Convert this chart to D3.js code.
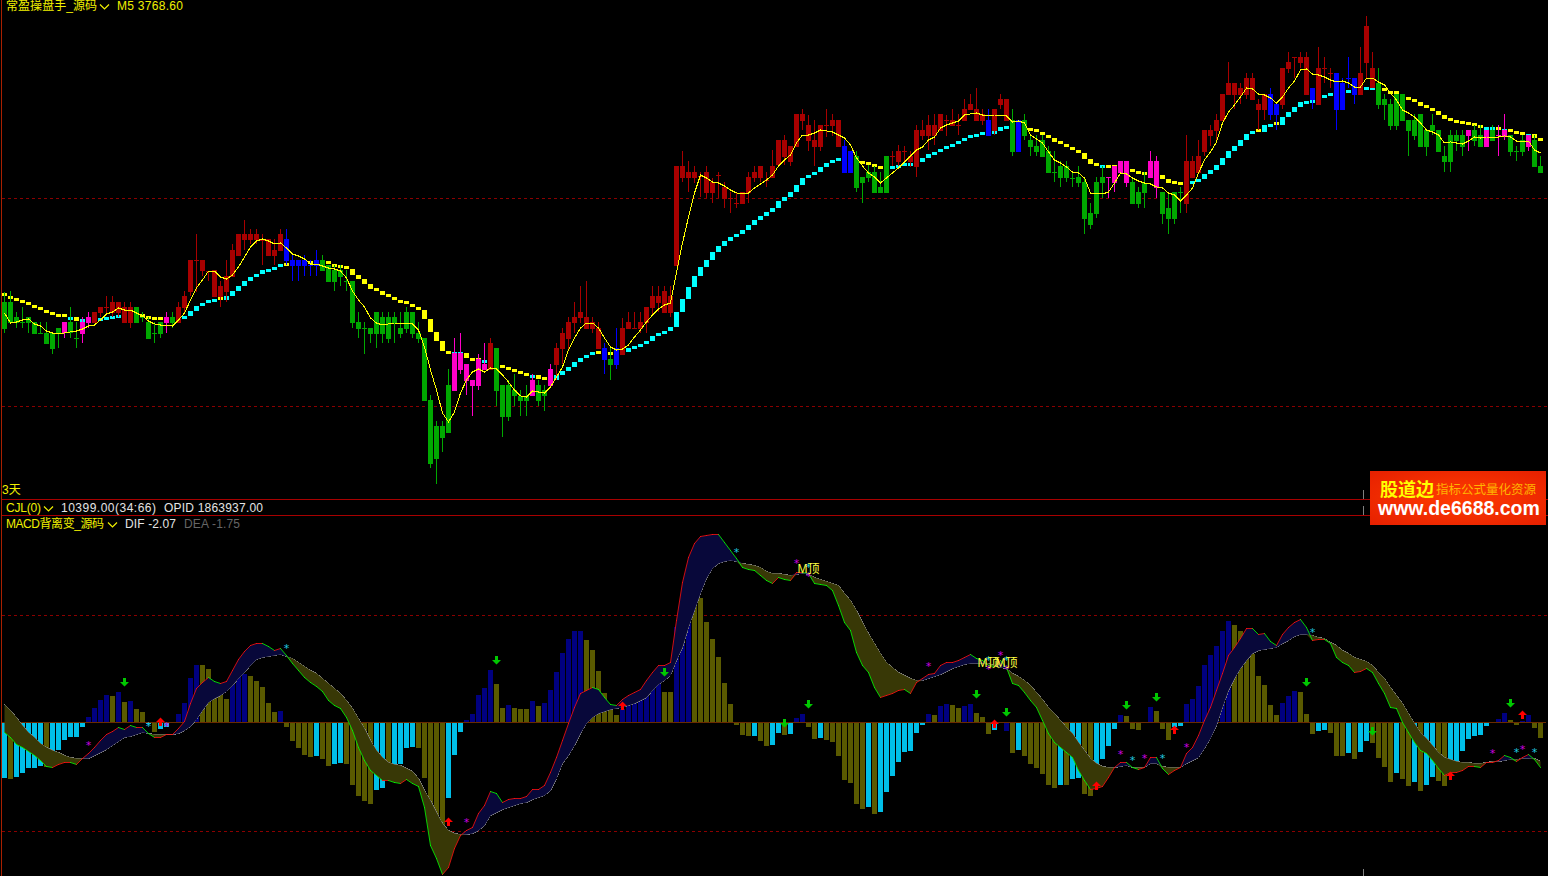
<!DOCTYPE html>
<html>
<head>
<meta charset="utf-8">
<script src="https://cdn.jsdelivr.net/npm/d3@7/dist/d3.min.js"></script>
<style>
html,body{margin:0;padding:0;background:#000;overflow:hidden}
svg{display:block}
text{font-family:"Liberation Sans","Noto Sans CJK SC",sans-serif;font-size:12px}
</style>
</head>
<body>
<svg id="c" width="1548" height="876"></svg>
<script>
// ---- price data: ticks (0.2 pts) above the base price
const priceBase = 3703.2, priceTick = 0.2;
const candleKinds = "gggggggggg"+"mggmmrrrrr"+"rrgggggmgr"+"rrrrrrrrrr"+"rrrrrrrbbb"+"bbbggggggg"+"gggggggggg"+"gggggmmmmm"+"mrggggggmg"+"gmrrrrrrrr"+
"bgbrrrrrrr"+"rrrrrrrrrr"+"rrrrrrrrrr"+"rrrrrrrrrr"+"bbggggggrr"+"rrrrrrrrrr"+"rrrrbrrrgb"+"gggggggggg"+"ggggmmmmgg"+"gmmggggrrr"+
"rrrrrrrrrr"+"rbbrrrrrbr"+"rrbbbbrrrg"+"gggggggggg"+"ggggmggmgm"+"mgggmgg";
const bodyHigh = [198,198,183,178,183,178,167,167,167,172,
178,178,162,178,183,188,193,193,198,198,
193,193,193,183,178,167,178,183,183,193,
204,240,240,240,229,230,214,224,250,266,
266,266,266,260,261,250,266,261,240,240,
240,235,240,240,235,230,230,219,219,178,
172,172,188,183,183,183,172,188,188,167,
162,100,74,74,115,147,147,136,120,141,
136,157,152,115,115,110,104,104,120,115,
110,131,152,167,178,183,188,183,178,172,
152,141,152,172,178,172,178,193,204,204,
209,204,334,334,328,328,324,328,318,325,
313,302,297,308,323,328,334,320,334,360,
360,354,386,386,375,360,375,375,380,380,
354,349,344,323,328,328,313,344,344,349,
349,344,370,370,375,375,386,380,380,375,
391,396,391,386,380,391,401,401,380,380,
380,360,354,360,349,328,334,334,322,323,
318,287,318,323,323,334,339,339,318,308,
317,339,339,308,292,308,308,339,339,344,
370,370,380,406,417,417,412,422,422,396,
406,406,396,432,438,443,443,443,412,432,
432,427,427,417,422,422,427,474,432,417,
401,396,406,406,380,380,386,370,375,370,
344,365,365,365,370,370,365,370,370,365,
370,365,349,360,365,360,334];
const bodyLow = [171,177,177,177,177,166,166,156,151,166,
167,167,161,166,177,177,187,192,187,187,
177,177,177,182,161,166,166,177,177,177,
192,208,239,229,228,203,203,208,223,244,
260,260,260,259,244,244,249,239,234,234,
234,234,234,229,218,218,223,218,177,171,
171,166,166,166,161,177,166,171,166,161,
99,36,41,62,67,109,130,119,114,114,
130,130,109,83,83,104,99,99,104,99,
104,114,135,151,161,177,182,171,171,151,
140,135,135,145,171,171,171,177,192,197,
187,187,234,322,322,322,323,307,307,324,
301,301,296,296,307,322,322,319,322,335,
343,338,353,379,359,353,353,374,374,353,
327,327,312,317,322,307,307,307,343,338,
348,338,333,364,364,364,369,379,374,374,
379,390,379,379,364,369,395,379,348,348,
364,353,348,343,327,327,322,322,321,317,
281,275,286,317,322,317,327,317,296,296,
307,322,312,286,281,281,307,296,322,327,
348,364,369,379,405,405,405,405,400,390,
390,385,385,395,431,442,437,405,400,395,
431,426,390,390,421,405,405,437,412,395,
395,374,374,379,369,364,353,353,369,348,
338,338,359,353,364,359,353,353,359,364,
364,348,348,348,353,333,327];
const wickHigh = [208,209,188,193,183,178,178,178,167,172,
178,193,178,183,188,188,193,204,204,198,
198,198,193,188,183,178,178,188,188,198,
209,240,266,240,229,230,219,240,256,266,
280,271,271,266,261,261,271,271,245,240,
245,240,250,245,235,235,235,230,219,188,
178,172,188,188,188,188,188,193,188,178,
162,105,79,79,131,162,167,136,120,146,
157,162,152,115,120,126,110,115,126,120,
115,136,157,172,183,198,214,219,183,178,
157,152,172,182,188,188,188,193,214,214,
214,214,334,349,339,334,328,334,322,328,
318,308,307,308,328,334,334,328,350,360,
365,354,386,391,385,380,375,391,386,380,
360,349,349,323,335,334,328,344,349,355,
354,349,375,380,385,386,386,385,391,386,
401,406,412,391,391,391,406,401,391,380,
386,365,365,365,354,349,339,339,328,334,
323,297,323,334,323,334,339,339,323,313,
328,349,344,308,308,308,313,365,344,360,
370,375,386,406,438,417,417,427,427,401,
406,412,396,432,448,443,448,448,412,453,
443,432,427,422,443,422,453,484,448,432,
406,401,406,406,380,386,386,370,386,370,
354,370,370,370,370,375,375,370,375,375,
386,365,354,365,365,365,344];
const wickLow = [167,177,172,172,167,166,166,156,146,152,
162,162,152,157,172,177,183,187,183,183,
177,172,177,178,161,157,162,167,172,177,
187,204,208,224,219,203,193,198,223,244,
250,256,256,235,244,235,249,235,219,219,
224,224,224,229,218,209,214,209,172,162,
146,157,152,157,157,157,162,167,162,157,
99,32,16,48,67,109,126,105,84,110,
130,130,94,63,79,94,84,84,104,94,
89,114,120,136,151,167,177,171,167,151,
126,120,131,145,171,171,167,167,184,188,
187,183,234,318,308,317,303,302,297,302,
292,287,292,296,297,318,318,313,322,333,
335,334,353,370,349,334,349,363,364,353,
327,327,308,297,318,307,307,307,334,334,
338,333,323,360,350,355,369,364,374,365,
379,390,379,375,364,365,391,379,344,348,
360,344,344,343,327,318,313,318,313,313,
266,271,282,302,302,308,327,313,296,292,
292,322,302,276,266,276,287,287,322,327,
344,354,358,379,405,391,396,401,400,370,
380,380,370,391,427,422,432,405,391,395,
417,412,370,390,412,396,405,422,412,391,
380,370,370,379,344,360,353,344,365,348,
328,328,349,344,349,354,353,353,359,344,
360,344,339,344,349,333,327];
const ladder = [204,201,199,197,195,192,190,187,185,183,
183,183,179,181,181,182,182,183,184,185,
185,185,185,183,181,180,180,180,180,182,
184,189,194,197,200,201,200,204,209,214,
219,223,226,230,231,233,236,234,236,236,
236,236,236,236,236,233,232,231,225,221,
216,211,209,205,203,200,197,196,193,190,
181,168,159,149,146,148,147,142,139,139,
140,138,134,132,130,128,126,124,125,121,
120,120,125,129,133,138,142,145,148,146,
146,145,145,148,152,154,156,159,164,167,
169,173,188,201,213,224,233,240,248,254,
259,263,266,270,275,280,284,288,292,299,
303,308,315,322,325,328,333,337,340,342,
342,342,339,336,335,333,331,331,334,335,
337,337,338,342,346,348,351,354,356,359,
362,365,366,368,369,369,373,374,374,374,
372,369,368,365,362,358,356,353,350,347,
341,336,334,335,332,332,332,330,328,326,
325,325,325,321,317,316,315,317,319,321,
326,330,335,342,349,354,360,366,369,368,
375,376,375,383,388,393,398,399,400,402,
405,407,409,410,408,410,410,413,413,412,
409,406,406,403,400,398,394,392,389,385,
381,379,377,376,375,374,372,373,372,370,
371,368,366,365,366,362,359];
const ladderKinds = "yyyyyyyyyy"+"ycyccccccc"+"ccyyyyyyyc"+"ccccccyccc"+"cccccccyyy"+"yyyyyyyyyy"+"yyyyyyyyyy"+"yyyyyccyyy"+"cyyyyyyycy"+"yycccccccy"+
"yyyccccccc"+"cccccccccc"+"cccccccccc"+"cccccccccc"+"yyyyyyyycc"+"cccccccccc"+"cccccccccc"+"cyyyyyyyyy"+"yyycyyyyyy"+"yyyyyyyycc"+
"cccccccccy"+"ccyccccccc"+"cccccccccy"+"yyyyyyyyyy"+"yyyyyyyccy"+"cyyycyy";
const trendLine = [187,177,178,180,181,176,174,169,167,166,
167,168,169,171,174,175,180,186,188,192,
190,190,187,184,179,176,175,175,174,180,
187,200,212,220,229,229,223,221,225,233,
243,253,259,261,259,256,257,252,246,244,
241,236,236,234,232,231,229,222,209,200,
193,182,177,175,176,177,177,177,176,170,
153,130,110,87,78,88,107,120,128,131,
128,132,131,125,118,110,104,103,109,108,
107,113,123,133,150,162,172,177,177,172,
162,153,150,151,155,163,170,178,185,191,
195,197,227,257,283,307,325,322,318,317,
314,310,307,306,307,312,316,320,325,334,
340,345,357,365,365,367,370,369,368,365,
362,355,342,334,327,323,317,322,327,332,
338,344,350,353,360,363,372,375,377,379,
385,386,387,385,384,385,385,384,378,379,
377,365,361,357,348,340,337,333,328,327,
322,307,307,306,308,317,327,326,322,319,
317,316,313,312,307,305,299,305,312,327,
340,348,358,377,388,395,403,412,411,406,
405,402,397,403,412,419,430,431,426,425,
423,420,418,419,417,413,413,422,422,418,
415,407,400,390,387,383,377,370,368,365,
357,358,357,356,359,363,362,363,363,363,
364,363,359,359,359,350,347];
const priceGrid = [3763.6, 3722.0];

// ---- MACD data: ticks of 1/21.6 above zero
const macdTick = 1/21.6;
const histogram = [-55,-56,-54,-50,-45,-45,-43,-44,-37,-27,
-17,-14,-14,-4,6,15,23,28,27,31,
21,22,14,11,-1,-9,-6,-4,1,9,
20,45,58,58,54,35,28,24,41,47,
49,47,42,36,20,11,12,-4,-18,-25,
-32,-34,-33,-36,-43,-41,-40,-41,-62,-73,
-78,-81,-67,-65,-52,-44,-41,-25,-24,-25,
-55,-104,-108,-109,-75,-32,-9,3,9,28,
35,53,39,15,18,15,14,14,22,17,
20,33,51,70,84,92,92,83,73,52,
30,15,8,14,18,21,25,30,38,41,
31,31,96,122,140,137,125,101,84,66,
40,19,-2,-12,-13,-13,-18,-23,-22,-10,
-12,-11,5,9,-4,-16,-15,-17,-19,-33,
-57,-60,-81,-86,-84,-91,-89,-69,-53,-39,
-29,-28,-10,-2,9,8,17,19,18,15,
17,19,10,6,-11,-7,1,-8,-30,-27,
-33,-41,-45,-51,-62,-65,-62,-62,-56,-55,
-71,-73,-55,-36,-23,-6,8,7,-6,-7,
1,16,12,-6,-17,-4,-3,19,24,37,
58,68,77,92,102,98,92,88,69,47,
38,18,8,20,27,32,31,9,-11,-8,
-7,-10,-33,-33,-30,-36,-29,-18,-20,-35,
-44,-59,-50,-56,-63,-59,-68,-62,-54,-58,
-63,-48,-39,-28,-16,-13,-12,-3,0,4,
10,3,-2,2,8,-5,-15];
const histKinds = "cocccccocc"+"ccccnnnnon"+"onoococcnn"+"nnnooooonn"+"nooooonooo"+"oocooccooo"+"ooccocccco"+"oooocccnnn"+"nnoonooono"+"nnnnnnnooo"+
"ooonnnnnnn"+"oonnnooooo"+"ooooocoocc"+"ocnnoocooo"+"oooococccc"+"ccccnonnoo"+"nnoooconoc"+"oooooococc"+"ooccccnooo"+"nnoooccnnn"+
"nnnnnooooo"+"ooonnnoooc"+"cooococcoo"+"oocoococco"+"occcccccnn"+"noonnoo";
const dif = [-10,-15,-22,-25,-29,-33,-38,-44,-45,-42,
-40,-40,-42,-36,-31,-25,-18,-12,-9,-5,
-7,-3,-5,-5,-11,-15,-15,-12,-12,-6,
1,19,34,40,45,41,39,41,52,63,
71,77,79,79,76,72,74,67,59,52,
45,40,36,31,22,17,14,5,-8,-25,
-38,-48,-53,-58,-58,-60,-61,-57,-61,-64,
-85,-123,-136,-152,-145,-126,-113,-108,-105,-91,
-83,-69,-71,-80,-77,-76,-76,-74,-67,-67,
-63,-50,-35,-18,-1,15,29,32,35,33,
25,18,17,23,27,30,33,42,50,57,
57,60,102,140,165,179,186,187,188,188,
180,172,164,155,153,152,147,142,139,145,
143,142,150,150,149,139,138,137,132,117,
100,92,70,57,50,35,25,27,29,32,
33,29,40,44,48,49,57,60,60,62,
65,68,64,62,57,56,62,55,39,37,
30,22,15,2,-11,-20,-25,-30,-35,-48,
-58,-67,-66,-64,-55,-45,-40,-40,-45,-47,
-45,-35,-35,-46,-52,-48,-45,-31,-25,-13,
2,15,32,49,67,75,84,94,94,88,
89,81,77,88,95,100,103,95,82,83,
83,79,65,60,57,50,51,54,50,39,
29,15,14,0,-10,-20,-28,-31,-38,-46,
-53,-50,-50,-48,-44,-44,-45,-40,-40,-38,
-33,-35,-39,-35,-32,-37,-45];
const dea = [18,12,5,-3,-10,-15,-21,-25,-28,-30,
-33,-35,-36,-36,-36,-33,-30,-27,-23,-19,
-15,-14,-12,-10,-11,-12,-12,-12,-12,-11,
-8,-4,3,12,20,24,27,31,37,44,
50,57,63,65,66,67,68,66,64,60,
56,52,49,44,39,34,29,22,14,4,
-6,-18,-28,-35,-40,-42,-43,-46,-49,-56,
-68,-78,-90,-101,-108,-111,-112,-112,-111,-108,
-103,-93,-90,-87,-85,-83,-81,-80,-77,-75,
-73,-68,-56,-41,-33,-23,-11,-1,5,9,
11,13,14,15,17,19,22,25,32,38,
42,47,62,75,95,112,129,144,154,159,
161,162,161,159,158,157,155,151,149,149,
148,147,148,149,148,145,143,141,139,137,
129,122,112,100,89,79,69,60,55,50,
47,44,42,42,44,46,48,51,54,56,
58,59,59,59,59,57,55,54,49,46,
42,37,30,23,15,9,2,-5,-11,-20,
-28,-36,-41,-44,-45,-45,-44,-43,-45,-45,
-45,-41,-41,-44,-45,-45,-45,-41,-38,-35,
-26,-16,-3,15,32,44,54,62,69,72,
73,74,75,79,82,86,88,88,87,85,
84,80,77,72,69,65,63,61,57,50,
44,35,27,19,9,-1,-10,-16,-23,-30,
-35,-37,-39,-40,-40,-41,-41,-40,-39,-39,
-38,-37,-37,-36,-36,-36,-39];
const macdGrid = [5, -5];
const downArrowBars = [20,82,110,130,134,162,167,187,192,217,228,251];
const downArrowTips = [36,58,46,-5,14,24,6,13,21,36,-13,15];
const upArrowBars = [26,74,103,165,182,195,241,253];
const upArrowTips = [5,-95,21,3,-59,-3,-49,12];
const magentaStarBars = [14,27,77,132,134,154,164,166,167,186,190,197,248,253];
const magentaStarVals = [-21,-2,-98,161,148,58,55,69,55,-30,-34,-23,-29,-25];
const cyanStarBars = [24,47,122,134,164,167,188,193,218,252,255];
const cyanStarVals = [-2,76,172,157,64,64,-36,-34,92,-28,-28];
const topLabelBars = [134,164,167];
const topLabelVals = [155,61,61];
const topLabelText = "M顶";

// ---- scales
const n = candleKinds.length;
const idx = d3.range(n);
const x = d3.scaleLinear().domain([0, 256]).range([4.5, 1540.5]);
const toPrice = t => priceBase + t * priceTick;
const yP = d3.scaleLinear().domain([priceBase, priceBase + 500 * priceTick]).range([500, 0]);
const yM = d3.scaleLinear().domain([-153.5 * macdTick, 206.5 * macdTick]).range([876, 516]);
const mv = v => yM(v * macdTick);

const svg = d3.select("#c");
svg.append("rect").attr("width",1548).attr("height",876).attr("fill","#000");
const crisp = svg.append("g").attr("shape-rendering","crispEdges");

const candleColor = {r:"#a80000",g:"#00a800",m:"#ff00c8",b:"#0000ff"};
const ladderColor = {y:"#ffff00",c:"#00ffff"};
const histColor = {c:"#00bfe8",o:"#5a5a00",n:"#000080"};

// main pane grid
crisp.selectAll(".pg").data(priceGrid).join("line").attr("x1",2).attr("x2",1548)
  .attr("y1",d=>Math.round(yP(d))+0.5).attr("y2",d=>Math.round(yP(d))+0.5)
  .attr("stroke","#8b0000").attr("stroke-dasharray","3,3");

// ladder
crisp.selectAll(".lad").data(idx).join("rect")
  .attr("x",i=>x(i)-2.5).attr("width",5)
  .attr("y",i=>{
    const a=yP(toPrice(ladder[i])), b=yP(toPrice(ladder[Math.max(i-1,0)]));
    const top=Math.min(a,b), bot=Math.max(a,b);
    return ladderKinds[i]==="y" ? Math.min(top,bot-3) : top;
  })
  .attr("height",i=>{
    const a=yP(toPrice(ladder[i])), b=yP(toPrice(ladder[Math.max(i-1,0)]));
    return Math.max(Math.abs(a-b),3);
  })
  .attr("fill",i=>ladderColor[ladderKinds[i]]);

// candles
crisp.selectAll(".wick").data(idx).join("rect")
  .attr("x",i=>x(i)-0.5).attr("width",1)
  .attr("y",i=>yP(toPrice(wickHigh[i])))
  .attr("height",i=>yP(toPrice(wickLow[i]))-yP(toPrice(wickHigh[i])))
  .attr("fill",i=>candleColor[candleKinds[i]]);
crisp.selectAll(".body").data(idx).join("rect")
  .attr("x",i=>x(i)-2.5).attr("width",5)
  .attr("y",i=>yP(toPrice(bodyHigh[i])))
  .attr("height",i=>Math.max(1,yP(toPrice(bodyLow[i]))-yP(toPrice(bodyHigh[i]))))
  .attr("fill",i=>candleColor[candleKinds[i]]);

// trend line
crisp.append("path").attr("fill","none").attr("stroke","#ffff00").attr("stroke-width",1)
  .attr("d",d3.line().x(i=>x(i)).y(i=>yP(toPrice(trendLine[i])))(idx));

// separators
const lines = svg.append("g").attr("shape-rendering","crispEdges");
lines.append("line").attr("x1",1.5).attr("x2",1.5).attr("y1",0).attr("y2",876).attr("stroke","#a82000");
[499.5,515.5].forEach(y=>lines.append("line").attr("x1",2).attr("x2",1548).attr("y1",y).attr("y2",y).attr("stroke","#a80000"));
[[490,499],[506,515],[869,876]].forEach(s=>lines.append("line").attr("x1",1363.5).attr("x2",1363.5).attr("y1",s[0]).attr("y2",s[1]).attr("stroke","#808080"));

// MACD grid and fill
crisp.selectAll(".mg").data(macdGrid).join("line").attr("x1",2).attr("x2",1548)
  .attr("y1",d=>Math.round(yM(d))+0.5).attr("y2",d=>Math.round(yM(d))+0.5)
  .attr("stroke","#8b0000").attr("stroke-dasharray","3,3");
const fillG = svg.append("g");
fillG.append("path").attr("fill","#08083a")
  .attr("d",d3.area().x(i=>x(i)).y0(i=>mv(dea[i])).y1(i=>mv(Math.max(dif[i],dea[i])))(idx));
fillG.append("path").attr("fill","#383806")
  .attr("d",d3.area().x(i=>x(i)).y0(i=>mv(dea[i])).y1(i=>mv(Math.min(dif[i],dea[i])))(idx));

// histogram
crisp.selectAll(".hist").data(idx).join("rect")
  .attr("x",i=>x(i)-2.5).attr("width",5)
  .attr("y",i=>Math.min(mv(histogram[i]),mv(0)))
  .attr("height",i=>Math.abs(mv(histogram[i])-mv(0)))
  .attr("fill",i=>histColor[histKinds[i]]);
crisp.append("line").attr("x1",2).attr("x2",1546).attr("y1",mv(0)).attr("y2",mv(0)).attr("stroke","#6a2a00");

// DEA, DIF lines
crisp.append("path").attr("fill","none").attr("stroke","#8c8c8c")
  .attr("d",d3.line().x(i=>x(i)).y(i=>mv(dea[i]))(idx));
const difG = svg.append("g").attr("stroke-linecap","square");
difG.selectAll("line").data(idx.slice(1)).join("line")
  .attr("x1",i=>x(i-1)).attr("x2",i=>x(i))
  .attr("y1",i=>mv(dif[i-1])).attr("y2",i=>mv(dif[i]))
  .attr("stroke-width",0.8)
  .attr("stroke",i=>dif[i]>=dif[i-1]?"#ff1010":"#00ff00");

// stars
const stars=(bars,vals,col)=>svg.append("g").selectAll("text").data(bars).join("text")
  .attr("x",(b)=>x(b)).attr("y",(b,j)=>mv(vals[j])+5.5).attr("text-anchor","middle")
  .attr("fill",col).style("font-family","'DejaVu Sans Mono'").style("font-size","11px").text("*");
stars(cyanStarBars,cyanStarVals,"#20c8e0");
stars(magentaStarBars,magentaStarVals,"#d000e0");

// arrows
const down=(cx,tip)=>`M${cx},${tip}l-4.5,-4.5h3v-4h3v4h3z`;
const up=(cx,tip)=>`M${cx},${tip}l-4.5,4.5h3v4h3v-4h3z`;
svg.append("g").selectAll("path").data(downArrowBars).join("path")
  .attr("d",(b,j)=>down(x(b),mv(downArrowTips[j]))).attr("fill","#00c800");
svg.append("g").selectAll("path").data(upArrowBars).join("path")
  .attr("d",(b,j)=>up(x(b),mv(upArrowTips[j]))).attr("fill","#ff0000");

// M top labels
svg.append("g").selectAll("text").data(topLabelBars).join("text")
  .attr("x",b=>x(b)).attr("y",(b,j)=>mv(topLabelVals[j])+5).attr("text-anchor","middle")
  .attr("fill","#ffff40").style("font-size","12px").text(topLabelText);

// header labels
const label=(tx,ty,s,col,w)=>{
  const t=svg.append("text").attr("x",tx).attr("y",ty).attr("fill",col).text(s);
  if(w) t.attr("textLength",w).attr("lengthAdjust","spacing");
  return t;
};
const chev=(cx,cy)=>svg.append("path").attr("d",`M${cx},${cy}l4.5,4.5l4.5,-4.5`).attr("fill","none").attr("stroke","#f0f000").attr("stroke-width",1.2);
label(6,10,"常盈操盘手_源码","#f0f000",91); chev(100,4.5);
label(117,10,"M5 3768.60","#f0f000",66);
label(2,494,"3天","#f0f000");
label(6,512,"CJL(0)","#f0f000",35); chev(44,506.5);
label(61,512,"10399.00(34:66)","#e4e4e4",95);
label(164,512,"OPID 1863937.00","#e4e4e4",99);
label(6,528,"MACD背离变_源码","#f0f000",98); chev(108,522.5);
label(125,528,"DIF -2.07","#e4e4e4",51);
label(184,528,"DEA -1.75","#666666",56);

// logo
const defs=svg.append("defs");
const grad=defs.append("radialGradient").attr("id","lg").attr("cx","50%").attr("cy","50%").attr("r","70%");
grad.append("stop").attr("offset","0%").attr("stop-color","#ff3c00");
grad.append("stop").attr("offset","100%").attr("stop-color","#e62000");
svg.append("rect").attr("x",1370).attr("y",471).attr("width",176).attr("height",54).attr("fill","url(#lg)");
svg.append("text").attr("x",1380).attr("y",496).attr("fill","#ffff00").style("font-size","18px").style("font-weight","bold").text("股道边");
svg.append("text").attr("x",1436).attr("y",494).attr("fill","#ffb400").style("font-size","12.5px").text("指标公式量化资源");
svg.append("text").attr("x",1378).attr("y",515).attr("fill","#ffffff").style("font-size","19.5px").style("font-weight","bold").text("www.de6688.com");
</script>
</body>
</html>
